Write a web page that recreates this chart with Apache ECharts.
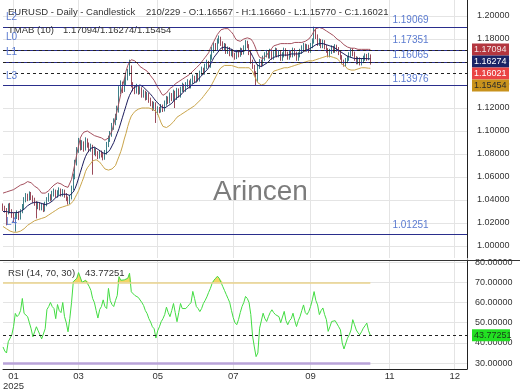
<!DOCTYPE html>
<html><head><meta charset="utf-8">
<script src="https://cdn.jsdelivr.net/npm/echarts@6/dist/echarts.min.js"></script>
<style>html,body{margin:0;padding:0;background:#fff}#c{width:520px;height:390px}</style>
</head><body><div id="c"></div>
<script>
const opens=[1.0345,1.0330,1.0310,1.0290,1.0350,1.0300,1.0270,1.0240,1.0260,1.0280,
1.0250,1.0300,1.0340,1.0400,1.0430,1.0410,1.0450,1.0420,1.0400,1.0370,
1.0340,1.0360,1.0330,1.0350,1.0320,1.0360,1.0400,1.0430,1.0410,1.0450,
1.0470,1.0440,1.0460,1.0480,1.0450,1.0470,1.0440,1.0410,1.0380,1.0420,
1.0500,1.0600,1.0720,1.0830,1.0900,1.0860,1.0890,1.0850,1.0910,1.0880,
1.0840,1.0860,1.0810,1.0830,1.0800,1.0780,1.0810,1.0790,1.0770,1.0810,
1.0880,1.0930,1.0970,1.1040,1.1080,1.1120,1.1180,1.1350,1.1400,1.1360,
1.1420,1.1470,1.1500,1.1550,1.1400,1.1370,1.1350,1.1380,1.1340,1.1360,
1.1310,1.1330,1.1290,1.1310,1.1270,1.1240,1.1200,1.1230,1.1160,1.1190,
1.1180,1.1210,1.1190,1.1240,1.1280,1.1260,1.1310,1.1280,1.1330,1.1290,
1.1350,1.1310,1.1360,1.1390,1.1360,1.1400,1.1420,1.1390,1.1430,1.1460,
1.1440,1.1480,1.1450,1.1500,1.1530,1.1510,1.1560,1.1590,1.1570,1.1640,
1.1700,1.1740,1.1720,1.1780,1.1800,1.1760,1.1720,1.1740,1.1690,1.1710,
1.1670,1.1690,1.1660,1.1640,1.1680,1.1660,1.1700,1.1680,1.1720,1.1770,
1.1740,1.1680,1.1600,1.1560,1.1500,1.1440,1.1560,1.1600,1.1580,1.1630,
1.1660,1.1680,1.1650,1.1690,1.1640,1.1670,1.1700,1.1660,1.1680,1.1630,
1.1660,1.1700,1.1670,1.1640,1.1680,1.1660,1.1700,1.1670,1.1630,1.1660,
1.1690,1.1720,1.1740,1.1710,1.1730,1.1700,1.1740,1.1780,1.1870,1.1820,
1.1760,1.1780,1.1740,1.1770,1.1730,1.1700,1.1660,1.1690,1.1720,1.1700,
1.1730,1.1710,1.1680,1.1640,1.1600,1.1580,1.1610,1.1630,1.1660,1.1700,
1.1670,1.1630,1.1600,1.1620,1.1590,1.1610,1.1630,1.1650,1.1633,1.16567];
const highs=[1.0370,1.0350,1.0330,1.0370,1.0375,1.0320,1.0290,1.0285,1.0310,1.0300,
1.0320,1.0365,1.0425,1.0460,1.0455,1.0475,1.0470,1.0440,1.0420,1.0390,
1.0385,1.0380,1.0375,1.0370,1.0385,1.0425,1.0460,1.0450,1.0480,1.0500,
1.0490,1.0485,1.0510,1.0500,1.0495,1.0490,1.0460,1.0430,1.0445,1.0525,
1.0630,1.0750,1.0860,1.0940,1.0925,1.0920,1.0910,1.0945,1.0935,1.0900,
1.0890,1.0880,1.0860,1.0850,1.0825,1.0835,1.0830,1.0810,1.0835,1.0905,
1.0960,1.1000,1.1070,1.1110,1.1150,1.1220,1.1390,1.1440,1.1430,1.1460,
1.1500,1.1540,1.1620,1.1570,1.1425,1.1395,1.1410,1.1400,1.1390,1.1380,
1.1360,1.1350,1.1340,1.1330,1.1290,1.1260,1.1255,1.1250,1.1215,1.1210,
1.1235,1.1230,1.1265,1.1305,1.1300,1.1335,1.1330,1.1360,1.1350,1.1375,
1.1370,1.1385,1.1420,1.1410,1.1425,1.1450,1.1440,1.1455,1.1490,1.1480,
1.1505,1.1500,1.1525,1.1560,1.1550,1.1585,1.1620,1.1610,1.1665,1.1730,
1.1770,1.1765,1.1805,1.1830,1.1820,1.1780,1.1765,1.1760,1.1735,1.1730,
1.1715,1.1710,1.1680,1.1705,1.1700,1.1725,1.1720,1.1745,1.1790,1.1785,
1.1755,1.1695,1.1620,1.1575,1.1520,1.1580,1.1625,1.1620,1.1655,1.1685,
1.1705,1.1700,1.1715,1.1710,1.1695,1.1725,1.1720,1.1705,1.1700,1.1685,
1.1725,1.1720,1.1690,1.1705,1.1700,1.1725,1.1720,1.1690,1.1685,1.1715,
1.1745,1.1765,1.1760,1.1755,1.1750,1.1765,1.1805,1.1907,1.1890,1.1840,
1.1805,1.1800,1.1795,1.1790,1.1750,1.1720,1.1715,1.1745,1.1740,1.1755,
1.1750,1.1730,1.1700,1.1660,1.1620,1.1635,1.1655,1.1685,1.1720,1.1720,
1.1690,1.1650,1.1645,1.1640,1.1635,1.1655,1.1675,1.1670,1.1680,1.16660];
const lows=[1.0305,1.0290,1.0180,1.0275,1.0285,1.0245,1.0200,1.0125,1.0235,1.0225,
1.0230,1.0285,1.0320,1.0380,1.0390,1.0395,1.0400,1.0375,1.0350,1.0240,
1.0320,1.0310,1.0310,1.0295,1.0300,1.0345,1.0385,1.0390,1.0395,1.0430,
1.0420,1.0420,1.0440,1.0430,1.0430,1.0420,1.0390,1.0360,1.0365,1.0405,
1.0485,1.0580,1.0700,1.0810,1.0830,1.0835,1.0820,1.0830,1.0855,1.0815,
1.0820,1.0620,1.0790,1.0780,1.0755,1.0760,1.0770,1.0745,1.0750,1.0795,
1.0860,1.0905,1.0950,1.1010,1.1050,1.1095,1.1160,1.1320,1.1330,1.1340,
1.1395,1.1440,1.1480,1.1380,1.1345,1.1320,1.1325,1.1315,1.1320,1.1290,
1.1290,1.1265,1.1270,1.1245,1.1215,1.1175,1.1180,1.1070,1.1140,1.1155,
1.1160,1.1165,1.1170,1.1220,1.1235,1.1240,1.1260,1.1260,1.1200,1.1270,
1.1290,1.1290,1.1340,1.1335,1.1340,1.1380,1.1370,1.1370,1.1410,1.1420,
1.1420,1.1430,1.1430,1.1480,1.1490,1.1490,1.1540,1.1550,1.1550,1.1620,
1.1680,1.1700,1.1700,1.1760,1.1740,1.1700,1.1700,1.1670,1.1670,1.1650,
1.1650,1.1640,1.1620,1.1625,1.1640,1.1645,1.1660,1.1665,1.1700,1.1720,
1.1660,1.1585,1.1540,1.1480,1.1398,1.1425,1.1540,1.1560,1.1565,1.1610,
1.1640,1.1630,1.1630,1.1620,1.1620,1.1650,1.1640,1.1640,1.1610,1.1610,
1.1640,1.1650,1.1620,1.1620,1.1640,1.1640,1.1650,1.1610,1.1610,1.1640,
1.1670,1.1700,1.1690,1.1690,1.1680,1.1680,1.1720,1.1760,1.1800,1.1740,
1.1740,1.1720,1.1720,1.1710,1.1680,1.1640,1.1640,1.1670,1.1680,1.1680,
1.1690,1.1660,1.1620,1.1580,1.1560,1.1560,1.1590,1.1610,1.1640,1.1650,
1.1610,1.1580,1.1580,1.1570,1.1570,1.1590,1.1610,1.1610,1.1615,1.15770];
const closes=[1.0330,1.0310,1.0290,1.0350,1.0300,1.0270,1.0240,1.0260,1.0280,1.0250,
1.0300,1.0340,1.0400,1.0430,1.0410,1.0450,1.0420,1.0400,1.0370,1.0340,
1.0360,1.0330,1.0350,1.0320,1.0360,1.0400,1.0430,1.0410,1.0450,1.0470,
1.0440,1.0460,1.0480,1.0450,1.0470,1.0440,1.0410,1.0380,1.0420,1.0500,
1.0600,1.0720,1.0830,1.0900,1.0860,1.0890,1.0850,1.0910,1.0880,1.0840,
1.0860,1.0810,1.0830,1.0800,1.0780,1.0810,1.0790,1.0770,1.0810,1.0880,
1.0930,1.0970,1.1040,1.1080,1.1120,1.1180,1.1350,1.1400,1.1360,1.1420,
1.1470,1.1500,1.1550,1.1400,1.1370,1.1350,1.1380,1.1340,1.1360,1.1310,
1.1330,1.1290,1.1310,1.1270,1.1240,1.1200,1.1230,1.1160,1.1190,1.1180,
1.1210,1.1190,1.1240,1.1280,1.1260,1.1310,1.1280,1.1330,1.1290,1.1350,
1.1310,1.1360,1.1390,1.1360,1.1400,1.1420,1.1390,1.1430,1.1460,1.1440,
1.1480,1.1450,1.1500,1.1530,1.1510,1.1560,1.1590,1.1570,1.1640,1.1700,
1.1740,1.1720,1.1780,1.1800,1.1760,1.1720,1.1740,1.1690,1.1710,1.1670,
1.1690,1.1660,1.1640,1.1680,1.1660,1.1700,1.1680,1.1720,1.1770,1.1740,
1.1680,1.1600,1.1560,1.1500,1.1440,1.1560,1.1600,1.1580,1.1630,1.1660,
1.1680,1.1650,1.1690,1.1640,1.1670,1.1700,1.1660,1.1680,1.1630,1.1660,
1.1700,1.1670,1.1640,1.1680,1.1660,1.1700,1.1670,1.1630,1.1660,1.1690,
1.1720,1.1740,1.1710,1.1730,1.1700,1.1740,1.1780,1.1870,1.1820,1.1760,
1.1780,1.1740,1.1770,1.1730,1.1700,1.1660,1.1690,1.1720,1.1700,1.1730,
1.1710,1.1680,1.1640,1.1600,1.1580,1.1610,1.1630,1.1660,1.1700,1.1670,
1.1630,1.1600,1.1620,1.1590,1.1610,1.1630,1.1650,1.1633,1.1657,1.16021];
const bandUpper=[1.046,1.046,1.047,1.047,1.048,1.048,1.049,1.050,1.051,1.052,
1.053,1.054,1.054,1.055,1.056,1.056,1.055,1.054,1.052,1.051,
1.050,1.048,1.046,1.045,1.046,1.047,1.048,1.050,1.051,1.053,
1.054,1.055,1.055,1.054,1.053,1.052,1.051,1.051,1.052,1.058,
1.065,1.072,1.080,1.087,1.094,1.097,1.099,1.100,1.100,1.099,
1.098,1.097,1.096,1.096,1.095,1.095,1.094,1.093,1.092,1.092,
1.094,1.097,1.100,1.106,1.112,1.118,1.125,1.132,1.139,1.145,
1.152,1.157,1.160,1.162,1.162,1.161,1.160,1.158,1.156,1.155,
1.154,1.153,1.152,1.150,1.148,1.146,1.144,1.141,1.138,1.136,
1.133,1.131,1.132,1.133,1.135,1.137,1.138,1.139,1.141,1.142,
1.143,1.144,1.145,1.146,1.147,1.148,1.149,1.150,1.152,1.153,
1.155,1.156,1.158,1.160,1.162,1.164,1.166,1.168,1.172,1.175,
1.178,1.181,1.184,1.186,1.188,1.189,1.189,1.189,1.189,1.188,
1.186,1.184,1.181,1.179,1.178,1.178,1.179,1.180,1.181,1.181,
1.181,1.180,1.178,1.175,1.171,1.167,1.164,1.163,1.163,1.164,
1.166,1.168,1.170,1.172,1.174,1.175,1.175,1.176,1.176,1.176,
1.176,1.176,1.176,1.176,1.176,1.176,1.177,1.177,1.177,1.177,
1.177,1.178,1.178,1.179,1.180,1.182,1.184,1.187,1.189,1.190,
1.190,1.190,1.189,1.188,1.187,1.186,1.185,1.184,1.183,1.182,
1.180,1.179,1.178,1.177,1.175,1.174,1.173,1.173,1.172,1.172,
1.172,1.171,1.171,1.171,1.171,1.171,1.171,1.171,1.1710,1.17094];
const bandMid=[1.030,1.030,1.030,1.030,1.029,1.029,1.029,1.029,1.029,1.030,
1.030,1.031,1.032,1.033,1.035,1.036,1.037,1.038,1.038,1.038,
1.038,1.037,1.037,1.036,1.036,1.036,1.037,1.038,1.039,1.040,
1.042,1.043,1.044,1.045,1.045,1.045,1.045,1.044,1.044,1.045,
1.047,1.050,1.054,1.059,1.064,1.069,1.074,1.078,1.081,1.083,
1.085,1.086,1.086,1.085,1.084,1.083,1.082,1.081,1.080,1.080,
1.082,1.084,1.087,1.090,1.094,1.098,1.102,1.107,1.112,1.117,
1.122,1.127,1.131,1.134,1.137,1.138,1.139,1.140,1.140,1.139,
1.138,1.137,1.135,1.134,1.132,1.130,1.128,1.126,1.125,1.123,
1.121,1.120,1.120,1.121,1.122,1.123,1.124,1.126,1.127,1.129,
1.130,1.131,1.133,1.134,1.136,1.137,1.138,1.139,1.141,1.142,
1.143,1.145,1.146,1.148,1.150,1.151,1.153,1.155,1.158,1.161,
1.164,1.166,1.168,1.170,1.172,1.173,1.173,1.173,1.172,1.172,
1.171,1.170,1.169,1.169,1.169,1.169,1.169,1.170,1.170,1.171,
1.170,1.168,1.165,1.162,1.159,1.157,1.156,1.156,1.157,1.158,
1.159,1.160,1.162,1.163,1.164,1.165,1.165,1.166,1.166,1.166,
1.166,1.166,1.166,1.166,1.167,1.167,1.167,1.167,1.167,1.167,
1.168,1.169,1.170,1.170,1.171,1.172,1.173,1.174,1.175,1.176,
1.176,1.176,1.176,1.176,1.175,1.174,1.174,1.173,1.173,1.172,
1.171,1.170,1.169,1.168,1.167,1.166,1.165,1.164,1.164,1.163,
1.163,1.163,1.163,1.163,1.163,1.163,1.163,1.163,1.1628,1.16274];
const bandLower=[1.017,1.016,1.015,1.014,1.013,1.013,1.012,1.012,1.012,1.012,
1.013,1.014,1.015,1.016,1.018,1.019,1.020,1.021,1.022,1.022,
1.023,1.024,1.024,1.025,1.025,1.026,1.027,1.028,1.029,1.030,
1.031,1.032,1.033,1.033,1.034,1.034,1.035,1.035,1.036,1.037,
1.039,1.042,1.045,1.048,1.052,1.056,1.060,1.065,1.068,1.070,
1.072,1.074,1.075,1.075,1.074,1.073,1.071,1.069,1.067,1.066,
1.066,1.066,1.067,1.067,1.070,1.074,1.078,1.082,1.087,1.093,
1.098,1.104,1.109,1.113,1.115,1.117,1.118,1.119,1.120,1.120,
1.120,1.120,1.120,1.120,1.120,1.119,1.118,1.117,1.115,1.111,
1.107,1.104,1.103,1.103,1.104,1.105,1.106,1.108,1.110,1.112,
1.113,1.114,1.115,1.116,1.117,1.118,1.119,1.120,1.121,1.122,
1.123,1.125,1.126,1.128,1.130,1.132,1.134,1.136,1.138,1.141,
1.144,1.147,1.150,1.153,1.155,1.156,1.157,1.157,1.157,1.157,
1.157,1.156,1.156,1.155,1.155,1.155,1.155,1.155,1.155,1.155,
1.155,1.154,1.152,1.148,1.145,1.142,1.141,1.140,1.140,1.141,
1.143,1.145,1.147,1.150,1.152,1.152,1.153,1.153,1.154,1.154,
1.155,1.155,1.155,1.156,1.156,1.156,1.157,1.157,1.158,1.158,
1.159,1.159,1.160,1.160,1.161,1.161,1.161,1.162,1.162,1.163,
1.163,1.164,1.164,1.165,1.165,1.165,1.165,1.165,1.164,1.164,
1.163,1.162,1.160,1.158,1.157,1.156,1.154,1.153,1.153,1.153,
1.153,1.154,1.154,1.155,1.155,1.155,1.155,1.155,1.1546,1.15454];
const rsi=[38,36,35,40.6,41.4,44,48,54.6,53,54,
56,62,54.6,54,53,50,47,43,45.5,48,
46,44,42,41.4,47,56.5,58,60,58,57,
52,59,56,55,60,53,50,45.5,52,60,
70.3,71,72,74.8,74,70,69.5,71,71.5,68,
66,62,60,56,52.3,56.5,58,61.3,58,57,
67,61,59,58,61,63.5,72.8,71,70.3,71.2,
71.5,72,74.5,65.3,64.5,63.5,62.8,62.5,62,60,
58.5,56,54.5,52,50.3,48,47,42.4,46,48,
50.5,52,54,57.7,55,53,56,59.5,55,50.5,
55,59.5,57,56.5,57,58,59,60,65.5,62,
58,57,55.5,57,59.5,61,62.8,65,67,69.5,
71,72,73,72,71.3,68,66,64,62,60,
56,52.5,50,49,51.5,55,58,60,63,62,
60,54,43.4,38,33.2,35,47.3,47.2,54.7,52,
50.6,53,55,56.4,55,54,54.7,53,50,49.8,
55.6,51,49,51,52,54.7,51,48.1,51,53,
56,58.8,55,54,55.6,58,61.3,65.4,61,58.8,
54,56,57.3,54,51.5,45.7,48,50.6,50.5,51,
51,48,46.4,40,37,36.5,42.3,44,46.4,51.5,
49,46.4,45,44,45.5,47.3,48.5,49.8,46,43.77251];
const levelNames=['L2','L0','L1','L3','L4'];
const levelValues=[1.19069,1.17351,1.16065,1.13976,1.01251];
const tagValues=[1.17094,1.16274,1.16021,1.15454];
const rsiLevels=[70,30];
const monthLabels={6:'01\n2025',43:'03',88:'05',131:'07',175:'09',220:'11',257:'12'};
const SLOTS=265;

const FONT='Liberation Sans';
const chart=echarts.init(document.getElementById('c'),null,{renderer:'canvas'});
const cats=Array.from({length:SLOTS},(_,i)=>String(i));
const last=closes.length-1;
const candleData=closes.map((c,i)=>[opens[i],c,lows[i],highs[i]]);
const rsiLast=rsi[last];
const rsiBase=rsi.map(()=>rsiLevels[0]);
const rsiOver=rsi.map(v=>Math.max(0,v-rsiLevels[0]));
const gridLine={color:'#e4e4e4',width:1};
const isMonth=(i)=>Object.prototype.hasOwnProperty.call(monthLabels,i);

const option={
  animation:false,
  textStyle:{fontFamily:FONT},
  grid:[
    {left:3,right:53,top:0,height:258,containLabel:false,outerBoundsMode:'none'},
    {left:3,right:53,top:260,height:109,containLabel:false,outerBoundsMode:'none'}
  ],
  xAxis:[
    {type:'category',gridIndex:0,data:cats,boundaryGap:false,
     axisLine:{show:false},axisTick:{show:false},axisLabel:{show:false},
     splitLine:{show:true,interval:(i)=>isMonth(i),lineStyle:gridLine}},
    {type:'category',gridIndex:1,data:cats,boundaryGap:false,
     axisLine:{show:true,onZero:false,lineStyle:{color:'#222',width:1}},axisTick:{show:false},
     axisLabel:{show:true,interval:(i)=>isMonth(i),formatter:(v,i)=>monthLabels[i]||'',
       color:'#333',fontSize:9.5,lineHeight:9.5,margin:3,fontFamily:FONT},
     splitLine:{show:true,interval:(i)=>isMonth(i),lineStyle:gridLine}}
  ],
  yAxis:[
    {type:'value',gridIndex:0,position:'right',min:0.98957,max:1.21391,splitNumber:11,
     axisLine:{show:true,lineStyle:{color:'#222',width:1}},axisTick:{show:false},
     axisLabel:{formatter:(v)=>v.toFixed(5),color:'#333',fontSize:9,margin:10,
       showMinLabel:false,showMaxLabel:false,fontFamily:FONT},
     splitLine:{show:true,showMinLine:false,showMaxLine:false,lineStyle:gridLine}},
    {type:'value',gridIndex:1,position:'right',min:27.08,max:81.04,splitNumber:5,
     axisLine:{show:true,lineStyle:{color:'#222',width:1}},axisTick:{show:false},
     axisLabel:{formatter:(v)=>v.toFixed(5),color:'#333',fontSize:9,margin:8,
       showMinLabel:false,showMaxLabel:false,fontFamily:FONT},
     splitLine:{show:true,showMinLine:false,showMaxLine:false,lineStyle:gridLine}}
  ],
  series:[
    {type:'candlestick',name:'EURUSD',xAxisIndex:0,yAxisIndex:0,data:candleData,barWidth:1.2,
     itemStyle:{color:'#5aa6a6',color0:'#c9687a',borderColor:'#3f7f88',borderColor0:'#9a4a5a',borderWidth:1},
     markLine:{symbol:'none',silent:true,animation:false,label:{show:false},
       data:[
         ...levelValues.map(v=>({yAxis:v,lineStyle:{color:'#2a2e8c',type:'solid',width:1}})),
         ...tagValues.map(v=>({yAxis:v,lineStyle:{color:'#222',type:[3,3],width:1}}))
       ]}},
    {type:'line',name:'upper',xAxisIndex:0,yAxisIndex:0,data:bandUpper,showSymbol:false,
     lineStyle:{color:'#a4505e',width:1},itemStyle:{color:'#a4505e'},z:3},
    {type:'line',name:'mid',xAxisIndex:0,yAxisIndex:0,data:bandMid,showSymbol:false,
     lineStyle:{color:'#1c1c5c',width:1},itemStyle:{color:'#1c1c5c'},z:3},
    {type:'line',name:'lower',xAxisIndex:0,yAxisIndex:0,data:bandLower,showSymbol:false,
     lineStyle:{color:'#c9a44a',width:1},itemStyle:{color:'#c9a44a'},z:3},
    {type:'line',name:'rsiBase',xAxisIndex:1,yAxisIndex:1,data:rsiBase,stack:'ob',showSymbol:false,
     lineStyle:{width:0,opacity:0},silent:true},
    {type:'line',name:'rsiOver',xAxisIndex:1,yAxisIndex:1,data:rsiOver,stack:'ob',showSymbol:false,
     lineStyle:{width:0,opacity:0},areaStyle:{color:'#f2cf4a',opacity:0.85},silent:true},
    {type:'line',name:'RSI',xAxisIndex:1,yAxisIndex:1,data:rsi,showSymbol:false,
     lineStyle:{color:'#42dc42',width:1},itemStyle:{color:'#42dc42'},z:4,
     markLine:{symbol:'none',silent:true,animation:false,label:{show:false},
       data:[
         [{coord:[0,rsiLevels[0]],lineStyle:{color:'#ead38c',width:1.5,type:'solid'}},{coord:[last,rsiLevels[0]]}],
         [{coord:[0,rsiLevels[1]],lineStyle:{color:'#b9a3d9',width:2.5,type:'solid'}},{coord:[last,rsiLevels[1]]}],
         {yAxis:rsiLast,lineStyle:{color:'#222',type:[3,3],width:1}}
       ]}}
  ]
};
chart.setOption(option);

const tagColors=[['#b3363f','#f4e4e4'],['#1b2466','#ffffff'],['#ea4444','#ffffff'],['#c8921c','#2a2a2a']];
const g=[];
const LBL='#5b7bd0';
const HF='9.5px '+FONT;
g.push({type:'line',shape:{x1:0,y1:260.5,x2:520,y2:260.5},style:{stroke:'#333',lineWidth:1},z:50});
g.push({type:'text',x:8,y:7,style:{text:'EURUSD - Daily - Candlestick',font:HF,fill:'#333'},z:60});
g.push({type:'text',x:146,y:7,style:{text:`${closes.length}/229 - O:${opens[last].toFixed(5)} - H:${highs[last].toFixed(5)} - L:${lows[last].toFixed(5)} - C:${closes[last].toFixed(5)}`,font:HF,fill:'#333'},z:60});
g.push({type:'text',x:8,y:25,style:{text:'TMAB (10)',font:HF,fill:'#333'},z:60});
g.push({type:'text',x:63,y:25,style:{text:`${bandUpper[last].toFixed(5)}/${bandMid[last].toFixed(5)}/${bandLower[last].toFixed(5)}`,font:HF,fill:'#333'},z:60});
g.push({type:'text',x:8,y:268,style:{text:'RSI (14, 70, 30)',font:HF,fill:'#333'},z:60});
g.push({type:'text',x:85,y:268,style:{text:rsiLast.toFixed(5),font:HF,fill:'#333'},z:60});
g.push({type:'text',x:213,y:178,style:{text:'Arincen',font:'28px '+FONT,fill:'#7c7c7c'},z:1});
levelValues.forEach((v,i)=>{
  const [px,py]=chart.convertToPixel({xAxisIndex:0,yAxisIndex:0},[221,v]);
  g.push({type:'text',x:6,y:py-9.5,style:{text:levelNames[i],font:'10px '+FONT,fill:LBL,verticalAlign:'middle'},z:60});
  g.push({type:'text',x:px+1,y:py-6,style:{text:v.toFixed(5),font:'10px '+FONT,fill:LBL,verticalAlign:'middle'},z:60});
});
let prev=-1e9;
tagValues.forEach((v,i)=>{
  let cy=chart.convertToPixel({yAxisIndex:0},v);
  cy=Math.max(cy,prev+12);prev=cy;
  g.push({type:'rect',shape:{x:472,y:cy-6,width:37,height:12},style:{fill:tagColors[i][0]},z:70});
  g.push({type:'text',x:474,y:cy,style:{text:v.toFixed(5),font:'9px '+FONT,fill:tagColors[i][1],verticalAlign:'middle'},z:71});
});
const ry=chart.convertToPixel({yAxisIndex:1},rsiLast);
g.push({type:'rect',shape:{x:472,y:ry-6,width:38,height:12},style:{fill:'#22e022'},z:70});
g.push({type:'text',x:474,y:ry,style:{text:rsiLast.toFixed(5),font:'9px '+FONT,fill:'#1a3a1a',verticalAlign:'middle'},z:71});
chart.setOption({graphic:g});
</script></body></html>
